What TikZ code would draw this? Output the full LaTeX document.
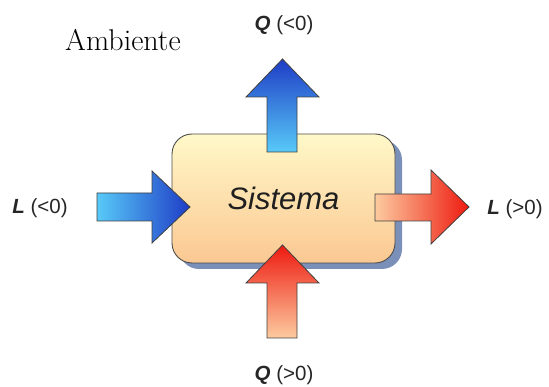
\documentclass[tikz,border=0pt]{standalone}
\usepackage{fontspec}
\setsansfont{Liberation Sans}
\definecolor{blueDark}{HTML}{1E3CC6}
\definecolor{blueLight}{HTML}{58CAF8}
\definecolor{redDark}{HTML}{EE1A10}
\definecolor{peach}{HTML}{FCCBA0}
\definecolor{boxTop}{HTML}{FFF8C8}
\definecolor{boxBot}{HTML}{FBC892}
\definecolor{shadowC}{HTML}{7A90B8}
\begin{document}
\begin{tikzpicture}[x=1pt,y=-1pt,
  lbl/.style={font=\sffamily\fontsize{20.5}{20.5}\selectfont, text=black!85, inner sep=0pt},
  arrowline/.style={draw=black!75, line width=0.8pt, line join=miter}]
\useasboundingbox (0,0) rectangle (549,387);
% shadow of the system box
\fill[shadowC, rounded corners=20pt] (179,140) rectangle (402,269);
% system box
\node[draw=black!70, line width=0.9pt, rounded corners=20pt,
      minimum width=223pt, minimum height=129pt,
      top color=boxTop, bottom color=boxBot,
      font=\sffamily\itshape\fontsize{31}{31}\selectfont, text=black!88] (sys) at (283.5,198.5) {Sistema};
% Q (<0): heat leaving, upwards
\path[arrowline, top color=blueDark, bottom color=blueLight]
  (267,152) -- (267,97) -- (246,97) -- (282.5,59) -- (319,97) -- (297,97) -- (297,152) -- cycle;
% Q (>0): heat entering, upwards from below
\path[arrowline, top color=redDark, bottom color=peach]
  (267,338) -- (267,283) -- (246,283) -- (282.5,245) -- (319,283) -- (297,283) -- (297,338) -- cycle;
% L (<0): work entering from left
\path[arrowline, left color=blueLight, right color=blueDark]
  (97,193) -- (152,193) -- (152,171) -- (190,207) -- (152,243) -- (152,221) -- (97,221) -- cycle;
% L (>0): work leaving to right
\path[arrowline, left color=peach, right color=redDark]
  (375,194) -- (431,194) -- (431,170) -- (469,207) -- (431,244) -- (431,221) -- (375,221) -- cycle;
% labels
\node[lbl] (lneg) at (40,208) {\textbf{\textit{L}} (<0)};
\node[lbl] (lpos) at (515,209) {\textbf{\textit{L}} (>0)};
\node[lbl] (qneg) at (284,25) {\textbf{\textit{Q}} (<0)};
\node[lbl] (qpos) at (284,375) {\textbf{\textit{Q}} (>0)};
\node[font=\fontsize{30}{30}\selectfont, inner sep=0pt] (amb) at (123,40) {Ambiente};
\end{tikzpicture}
\end{document}
